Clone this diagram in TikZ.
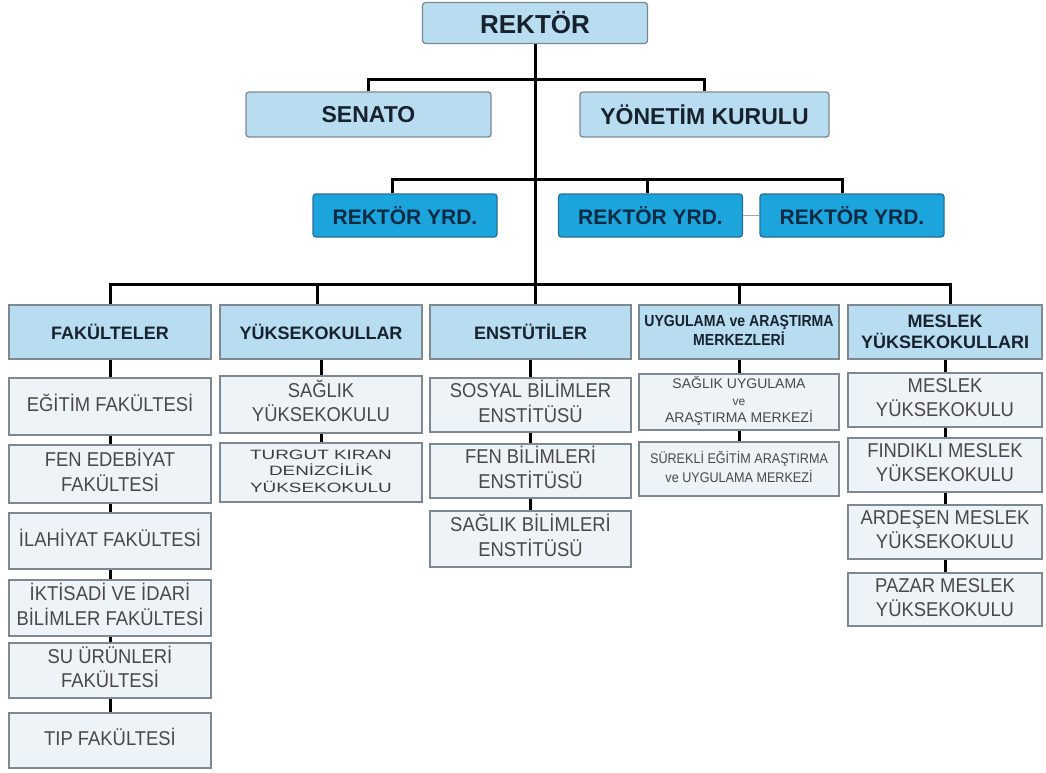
\documentclass[tikz,border=0pt]{standalone}
\usepackage{fontspec}
\setmainfont{Liberation Sans}
\usepackage{graphicx}
\definecolor{hdrfill}{HTML}{B8DDF1}
\definecolor{yrdfill}{HTML}{1CA5DC}
\definecolor{yrdline}{HTML}{2A6F95}
\definecolor{kidfill}{HTML}{EEF3F8}
\definecolor{kidtext}{HTML}{484848}
\definecolor{darktext}{HTML}{17222E}
\definecolor{yrdtext}{HTML}{0E2A45}
\definecolor{boxline}{HTML}{7E8890}
\newcommand{\cx}[2][0.92]{\scalebox{#1}[1]{\begin{tabular}{@{}c@{}}#2\end{tabular}}}
\begin{document}
\begin{tikzpicture}[x=1pt,y=-1pt,
 base/.style={draw=boxline, line width=1.3pt, inner sep=0pt, align=center},
 topbox/.style={base, rounded corners=3pt, fill=hdrfill, text=darktext, font=\bfseries\fontsize{23}{27}\selectfont},
 yrdbox/.style={base, draw=yrdline, rounded corners=3pt, fill=yrdfill, text=yrdtext, font=\bfseries\fontsize{21}{25}\selectfont, minimum width=184pt, minimum height=43pt},
 hdr/.style={base, fill=hdrfill, text=darktext, font=\bfseries\fontsize{18}{20.5}\selectfont, minimum height=54pt},
 kid/.style={base, fill=kidfill, text=kidtext, font=\fontsize{20}{23.5}\selectfont},
 conn/.style={line width=3pt, black},
]
\useasboundingbox[fill=white] (0,0) rectangle (1046,772);

% top level
\node[topbox, minimum width=225pt, minimum height=41pt, font=\bfseries\fontsize{26}{30}\selectfont] (rektor) at (535,23) {REKTÖR};
\node[topbox, minimum width=245pt, minimum height=45pt] (senato) at (368.5,114.5) {SENATO};
\node[topbox, minimum width=249pt, minimum height=45pt] (yonetim) at (704.5,114.5) {YÖNETİM KURULU};

\node[yrdbox] (yrd1) at (405,215.5) {REKTÖR YRD.};
\node[yrdbox] (yrd2) at (650.5,215.5) {REKTÖR YRD.};
\node[yrdbox] (yrd3) at (852,215.5) {REKTÖR YRD.};

% headers
\node[hdr, minimum width=202pt] (fak) at (110,332) {FAKÜLTELER};
\node[hdr, minimum width=202pt] (yo) at (321,332) {YÜKSEKOKULLAR};
\node[hdr, minimum width=201pt] (ens) at (530.5,332) {ENSTÜTİLER};
\node[hdr, minimum width=200pt, font=\bfseries\fontsize{16}{18.5}\selectfont] (uyg) at (739,332) {\cx[0.88]{UYGULAMA ve ARAŞTIRMA\\MERKEZLERİ}};
\node[hdr, minimum width=194pt] (mes) at (945,332) {MESLEK\\YÜKSEKOKULLARI};

% fakülteler
\node[kid, minimum width=202pt, minimum height=57pt] (f1) at (110,406.5) {\cx{EĞİTİM FAKÜLTESİ}};
\node[kid, minimum width=202pt, minimum height=58pt] (f2) at (110,474) {\cx{FEN EDEBİYAT\\FAKÜLTESİ}};
\node[kid, minimum width=202pt, minimum height=56pt] (f3) at (110,541) {\cx{İLAHİYAT FAKÜLTESİ}};
\node[kid, minimum width=202pt, minimum height=56pt] (f4) at (110,608) {\cx{İKTİSADİ VE İDARİ\\BİLİMLER FAKÜLTESİ}};
\node[kid, minimum width=202pt, minimum height=55pt] (f5) at (110,670.5) {\cx{SU ÜRÜNLERİ\\FAKÜLTESİ}};
\node[kid, minimum width=202pt, minimum height=55pt] (f6) at (110,740.5) {\cx{TIP FAKÜLTESİ}};

% yüksekokullar
\node[kid, minimum width=202pt, minimum height=57pt] (y1) at (321,404.5) {\cx{SAĞLIK\\YÜKSEKOKULU}};
\node[kid, minimum width=202pt, minimum height=59pt, font=\fontsize{13.5}{16}\selectfont, text=kidtext!85!black] (y2) at (321,472.5) {\cx[1.4]{TURGUT KIRAN\\DENİZCİLİK\\YÜKSEKOKULU}};

% enstitüler
\node[kid, minimum width=201pt, minimum height=54pt] (e1) at (530.5,405) {\cx{SOSYAL BİLİMLER\\ENSTİTÜSÜ}};
\node[kid, minimum width=201pt, minimum height=54pt] (e2) at (530.5,471) {\cx{FEN BİLİMLERİ\\ENSTİTÜSÜ}};
\node[kid, minimum width=201pt, minimum height=56pt] (e3) at (530.5,539) {\cx{SAĞLIK BİLİMLERİ\\ENSTİTÜSÜ}};

% uygulama
\node[kid, minimum width=200pt, minimum height=56pt, font=\fontsize{14}{16.5}\selectfont] (u1) at (739,402) {\cx[1.0]{SAĞLIK UYGULAMA\\{\fontsize{12}{13}\selectfont ve}\\ARAŞTIRMA MERKEZİ}};
\node[kid, minimum width=200pt, minimum height=54pt, font=\fontsize{14}{19}\selectfont] (u2) at (739,469) {\cx[0.9]{SÜREKLİ EĞİTİM ARAŞTIRMA\\ve UYGULAMA MERKEZİ}};

% meslek
\node[kid, minimum width=194pt, minimum height=54pt] (m1) at (945,400) {\cx{MESLEK\\YÜKSEKOKULU}};
\node[kid, minimum width=194pt, minimum height=54pt] (m2) at (945,465) {\cx{FINDIKLI MESLEK\\YÜKSEKOKULU}};
\node[kid, minimum width=194pt, minimum height=54pt] (m3) at (945,532) {\cx{ARDEŞEN MESLEK\\YÜKSEKOKULU}};
\node[kid, minimum width=194pt, minimum height=53pt] (m4) at (945,599.5) {\cx{PAZAR MESLEK\\YÜKSEKOKULU}};

% connectors
\draw[conn] (rektor.south) -- (rektor.south |- ens.north);
\draw[conn] (senato.north) -- ++(0,-12) -| (yonetim.north);
\draw[conn] ([xshift=-13pt]yrd1.north) -- ++(0,-14) -| ([xshift=-10pt]yrd3.north);
\draw[conn] ([xshift=-3pt]yrd2.north) -- ++(0,-14);
\draw[line width=1.2pt, gray!70] (yrd2.east) -- (yrd3.west);
\draw[conn] (fak.north) -- ++(0,-20) -| ([xshift=5pt]mes.north);
\draw[conn] ([xshift=-4pt]yo.north) -- ++(0,-20);
\draw[conn] (uyg.north) -- ++(0,-20);
\foreach \a/\b in {fak/f1,f1/f2,f2/f3,f3/f4,f4/f5,f5/f6,yo/y1,y1/y2,ens/e1,e1/e2,e2/e3,uyg/u1,u1/u2,mes/m1,m1/m2,m2/m3,m3/m4}
  \draw[conn] (\a.south) -- (\b.north);
\end{tikzpicture}
\end{document}
